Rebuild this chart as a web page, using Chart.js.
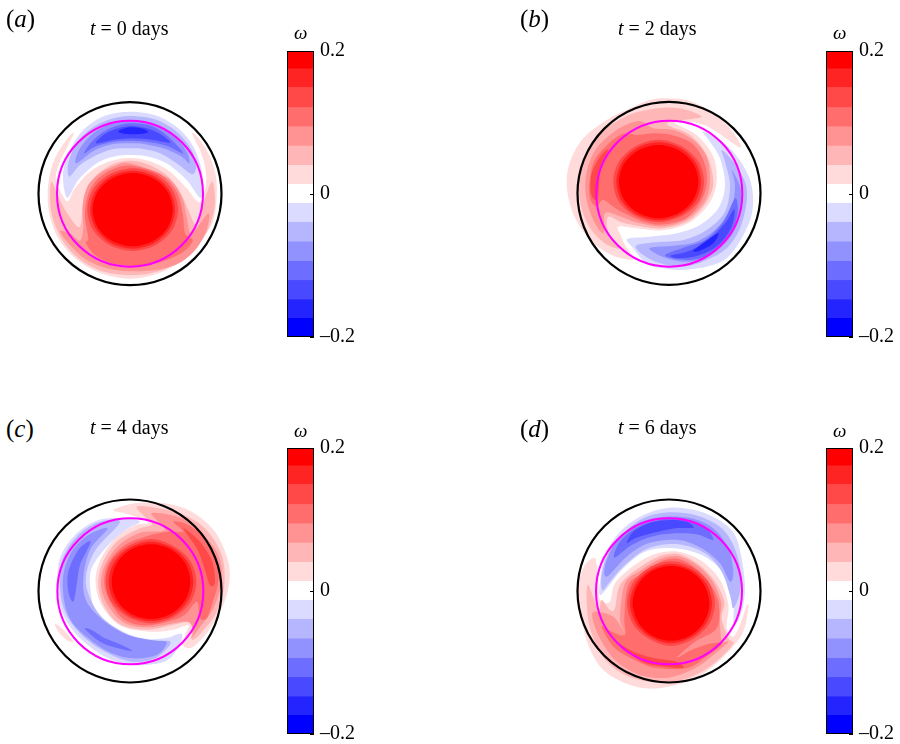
<!DOCTYPE html>
<html><head><meta charset="utf-8">
<script src="https://cdn.jsdelivr.net/npm/chart.js@4"></script>
<style>
html,body{margin:0;padding:0;background:#fff;width:900px;height:744px;overflow:hidden}
canvas{position:absolute}
.t{position:absolute;font-family:"Liberation Serif",serif;color:#000;white-space:nowrap;line-height:1}
.lab{font-size:25px}.ttl{font-size:20px}.om{font-size:19px;font-style:italic}
i{font-style:italic}
</style></head><body>
<script>
// colour-bar values
const barEdges=[0.2,0.176,0.15,0.122,0.095,0.068,0.041,0.0145,-0.012,-0.0385,-0.066,-0.093,-0.12,-0.147,-0.173,-0.2];
const barColors=['#ff0000','#ff2424','#ff4949','#ff6d6d','#ff9292','#ffb6b6','#ffdbdb','#ffffff','#dbdbff','#b6b6ff','#9292ff','#6d6dff','#4949ff','#2424ff','#0000ff'];
const barTicks=[-0.2,0,0.2];
const P1='#ffdbdb',P2='#ffb6b6',P3='#ff9292',P4='#ff6d6d',P5='#ff4949',P6='#ff2424',P7='#ff0000';
const B1='#dbdbff',B2='#b6b6ff',B3='#9292ff',B4='#6d6dff',B5='#4949ff',B6='#2424ff';

// panel (a) vorticity contours
const aP1=[[222,400],[195,425],[165,475],[148,530],[143,590],[150,650],[175,715],[215,765],[270,805],[330,828],[390,836],[450,828],[510,805],[565,765],[610,715],[640,660],[650,590],[648,530],[630,470],[600,420],[575,398],[600,450],[615,500],[618,550],[605,600],[590,603],[560,565],[510,515],[450,484],[390,474],[330,484],[270,515],[225,565],[205,603],[190,590],[168,540],[178,490]];
const aP2=[[155,545],[150,600],[160,660],[190,725],[235,775],[290,808],[345,822],[390,825],[440,822],[500,805],[555,770],[600,725],[630,675],[645,610],[638,545],[622,575],[605,630],[590,680],[565,630],[540,575],[500,525],[440,492],[390,482],[340,492],[285,530],[252,590],[240,680],[205,645],[180,600]];
const aP3=[[390,490],[500,532],[545,590],[560,650],[575,700],[625,640],[620,690],[590,745],[545,785],[480,808],[390,814],[320,805],[260,780],[215,740],[180,695],[210,700],[240,722],[250,680],[248,620],[262,560],[300,520],[345,497]];
const aP4=[[395,497],[480,522],[530,575],[548,640],[555,700],[578,722],[550,755],[500,780],[440,795],[390,797],[330,788],[285,765],[258,730],[265,715],[255,650],[262,590],[290,540],[340,507]];
const aP5=[[534,629],[516,691],[466,736],[398,753],[330,736],[280,691],[262,629],[280,567],[330,522],[398,505],[466,522],[516,567]];
const aP6=[[525,629],[508,687],[462,730],[398,746],[334,730],[288,687],[271,629],[288,571],[334,528],[398,512],[462,528],[508,571]];
const aP7=[[518,629],[502,684],[458,724],[398,739],[338,724],[294,684],[278,629],[294,574],[338,534],[398,519],[458,534],[502,574]];
const aB1=[[390,335],[470,347],[535,385],[580,440],[605,510],[607,575],[598,592],[560,540],[500,490],[445,470],[390,465],[340,470],[290,490],[235,540],[205,592],[193,570],[190,510],[215,440],[255,385],[315,347]];
const aB2=[[390,348],[465,358],[530,395],[575,450],[588,500],[575,522],[530,490],[480,460],[430,447],[390,445],[340,447],[290,465],[240,495],[208,530],[205,490],[230,430],[275,385],[330,358]];
const aB3=[[390,362],[460,372],[520,405],[560,455],[568,490],[545,470],[490,445],[430,432],[390,430],[340,432],[285,450],[228,490],[240,445],[280,400],[330,372]];
const aB4=[[390,370],[455,378],[505,410],[550,460],[500,437],[440,425],[390,422],[340,425],[285,440],[252,460],[280,420],[330,385]];
const aB5=[[390,378],[440,385],[485,405],[510,428],[460,420],[400,415],[340,420],[288,430],[310,405],[345,388]];
const aB6=[[355,395],[375,385],[400,382],[430,387],[445,397],[420,402],[380,402]];

// panel (b)
const bP1=[[350,40],[420,48],[490,85],[540,130],[570,175],[568,187],[535,165],[480,128],[430,112],[375,113],[440,150],[490,215],[500,290],[478,355],[420,412],[340,436],[260,430],[205,425],[212,450],[225,480],[250,522],[200,516],[150,490],[100,440],[65,375],[50,300],[60,230],[100,160],[170,105],[240,70],[300,45]];
const bP2=[[340,68],[400,72],[455,95],[400,105],[350,118],[420,150],[470,210],[490,290],[470,350],[418,406],[340,430],[260,422],[215,412],[175,395],[175,440],[210,490],[160,472],[112,415],[88,335],[95,250],[130,170],[190,115],[260,82]];
const bP3=[[267,108],[200,135],[140,190],[110,260],[108,335],[130,405],[160,445],[165,385],[205,392],[270,415],[340,424],[412,402],[465,348],[480,285],[470,215],[430,165],[370,135],[310,130]];
const bP4=[[210,150],[140,215],[120,280],[120,340],[140,365],[160,345],[205,375],[280,410],[340,418],[410,398],[455,345],[471,285],[460,225],[425,175],[365,150],[310,145],[265,150]];
const bP5a=[[175,192],[150,215],[125,265],[122,320],[135,345],[145,330],[150,265],[165,220]];
const bP5=[[462,290],[444,352],[394,394],[326,412],[258,394],[208,352],[190,290],[208,228],[258,183],[326,164],[394,183],[444,228]];
const bP6=[[453,290],[436,349],[390,390],[326,406],[262,390],[216,349],[199,290],[216,231],[262,188],[326,172],[390,188],[436,231]];
const bP7=[[445,290],[429,345],[385,385],[326,400],[267,385],[223,345],[207,290],[223,235],[267,195],[326,180],[385,195],[429,235]];
const bB1=[[458,140],[500,160],[545,195],[590,260],[608,320],[605,390],[575,460],[530,520],[470,545],[390,555],[340,550],[290,537],[250,490],[232,462],[300,455],[380,445],[450,420],[505,370],[525,300],[510,220],[480,170]];
const bB2=[[515,195],[550,230],[585,290],[590,350],[570,430],[530,490],[470,525],[400,545],[330,535],[280,510],[258,482],[320,472],[400,465],[470,435],[525,380],[540,300],[525,230]];
const bB3=[[545,255],[572,310],[572,380],[545,450],[490,505],[420,530],[350,520],[298,490],[370,482],[440,470],[500,430],[545,365],[555,300]];
const bB4=[[556,340],[562,390],[535,455],[485,505],[420,525],[345,512],[400,488],[465,465],[520,410]];
const bB5=[[553,372],[545,425],[505,480],[450,510],[390,520],[362,512],[410,500],[470,470],[525,415]];
const bB6=[[430,497],[465,470],[505,445],[490,475],[450,497]];

// panel (c)
const cP1=[[265,75],[330,55],[420,55],[500,80],[570,140],[610,230],[612,300],[590,370],[545,445],[500,488],[473,480],[480,450],[490,420],[440,435],[370,440],[290,424],[235,370],[212,300],[222,235],[265,165],[325,122],[370,115],[345,100],[300,85]];
const cP1b=[[90,418],[105,425],[135,455],[145,472],[125,465],[100,440]];
const cP2=[[335,65],[400,70],[470,88],[540,130],[590,210],[598,300],[575,380],[540,430],[503,465],[500,420],[480,412],[370,434],[285,418],[237,362],[220,300],[232,235],[275,170],[340,132],[380,120],[370,105]];
const cP3=[[380,85],[470,100],[530,145],[580,210],[590,290],[565,370],[530,420],[497,462],[505,440],[495,415],[470,410],[370,427],[295,412],[245,355],[228,300],[240,240],[285,178],[350,142],[420,135]];
const cP4=[[445,110],[490,120],[540,160],[575,225],[580,290],[560,360],[545,400],[525,400],[515,350],[470,395],[370,421],[300,405],[255,350],[238,295],[250,235],[300,180],[370,152],[430,140],[475,140]];
const cP5a=[[475,130],[520,165],[560,225],[570,290],[555,300],[535,240],[515,190]];
const cP5=[[514,290],[496,352],[446,397],[378,415],[310,397],[260,352],[242,290],[260,228],[310,183],[378,162],[446,183],[496,228]];
const cP6=[[505,290],[488,349],[442,392],[378,408],[314,392],[268,349],[251,290],[268,231],[314,188],[378,170],[442,188],[488,231]];
const cP7=[[496,290],[480,346],[437,387],[378,402],[319,387],[276,346],[260,290],[276,234],[319,193],[378,178],[437,193],[480,234]];
const cB1=[[345,110],[300,100],[220,105],[150,150],[105,220],[98,310],[115,390],[165,460],[240,515],[320,540],[400,535],[440,515],[468,470],[468,446],[420,460],[350,460],[275,430],[215,385],[197,320],[200,250],[250,180],[310,130]];
const cB2=[[285,110],[220,112],[155,155],[112,225],[105,310],[122,385],[170,450],[240,500],[320,530],[390,520],[437,470],[360,470],[290,440],[225,390],[188,320],[185,260],[215,190]];
const cB3=[[248,130],[190,150],[140,200],[115,270],[118,350],[140,410],[190,460],[250,500],[320,520],[395,510],[425,472],[385,466],[310,450],[240,410],[185,350],[175,280],[195,195]];
const cB4a=[[197,170],[160,195],[130,260],[130,320],[145,350],[155,300],[165,240]];
const cB4b=[[180,432],[225,470],[280,490],[322,498],[285,478],[240,460],[200,435]];

// panel (d)
const dP1=[[88,218],[60,240],[40,300],[45,380],[70,480],[110,550],[170,590],[240,610],[310,605],[390,580],[460,530],[530,450],[550,370],[545,362],[525,420],[505,455],[485,430],[490,360],[465,285],[410,228],[340,200],[270,207],[205,243],[150,295],[135,350],[105,345],[100,290],[95,240]];
const dP2=[[70,300],[65,350],[75,430],[110,510],[170,565],[250,590],[330,590],[410,560],[470,515],[505,475],[490,460],[470,400],[478,350],[450,290],[400,238],[340,207],[280,215],[220,250],[165,300],[150,370],[135,375],[110,345],[100,375]];
const dP3=[[82,385],[100,450],[150,525],[225,570],[310,578],[390,550],[445,510],[490,470],[470,468],[465,400],[468,350],[440,285],[395,240],[340,214],[285,222],[225,258],[180,295],[165,400],[178,440],[150,400],[120,385]];
const dP4=[[110,425],[150,490],[220,530],[280,550],[370,548],[430,510],[470,478],[440,475],[380,495],[335,518],[390,470],[455,430],[460,350],[430,290],[390,248],[340,222],[290,228],[240,262],[190,300],[178,400],[180,450],[140,440]];
const dP5a=[[165,478],[205,500],[270,520],[335,530],[355,548],[300,545],[230,530]];
const dP5=[[450,355],[432,417],[384,462],[318,483],[252,462],[204,417],[186,355],[204,293],[252,248],[318,229],[384,248],[432,293]];
const dP6=[[441,355],[424,414],[380,456],[318,475],[256,456],[212,414],[195,355],[212,296],[256,254],[318,236],[380,254],[424,296]];
const dP7=[[433,355],[417,411],[375,452],[318,467],[261,452],[219,411],[203,355],[219,299],[261,258],[318,243],[375,258],[417,299]];
const dB1=[[312,68],[400,78],[470,110],[510,150],[530,220],[540,310],[530,380],[507,420],[505,340],[480,270],[420,215],[330,190],[240,200],[170,255],[130,305],[105,330],[105,290],[120,210],[165,140],[235,90]];
const dB2=[[310,82],[390,90],[465,125],[505,180],[525,250],[525,320],[505,370],[495,330],[470,260],[420,205],[340,178],[250,190],[180,240],[135,290],[112,315],[110,270],[130,205],[170,150],[235,100]];
const dB3=[[300,95],[380,100],[445,130],[490,190],[505,260],[495,290],[465,235],[410,190],[340,165],[250,175],[185,215],[125,275],[122,235],[160,160],[225,112]];
const dB4=[[300,102],[370,105],[420,125],[445,165],[395,148],[330,145],[260,155],[200,180],[148,218],[165,170],[220,125]];
const dB5=[[185,175],[205,140],[260,112],[320,105],[365,110],[385,128],[330,130],[260,145],[210,160]];

const panels=[
 {box:[0,0,240,300],c:[390,581],bands:[[aP1,P1],[aP2,P2],[aP3,P3],[aP4,P4],[aP5,P5],[aP6,P6],[aP7,P7],[aB1,B1],[aB2,B2],[aB3,B3],[aB4,B4],[aB5,B5],[aB6,B6]],m:[390,581]},
 {box:[550,85,230,215],c:[357,325],bands:[[bP1,P1],[bP2,P2],[bP3,P3],[bP4,P4],[bP5a,P5],[bP5,P5],[bP6,P6],[bP7,P7],[bB1,B1],[bB2,B2],[bB3,B3],[bB4,B4],[bB5,B5],[bB6,B6]],m:[358,326]},
 {box:[25,485,220,215],c:[315,318],bands:[[cP1,P1],[cP1b,P1],[cP2,P2],[cP3,P3],[cP4,P4],[cP5a,P5],[cP5,P5],[cP6,P6],[cP7,P7],[cB1,B1],[cB2,B2],[cB3,B3],[cB4a,B4],[cB4b,B4]],m:[316,319]},
 {box:[565,485,210,215],c:[312,318],bands:[[dP1,P1],[dP2,P2],[dP3,P3],[dP4,P4],[dP5a,P5],[dP5,P5],[dP6,P6],[dP7,P7],[dB1,B1],[dB2,B2],[dB3,B3],[dB4,B4],[dB5,B5]],m:[312,319]}
];
const cbars=[[287,51],[826,51],[287,448],[826,448]];
const labels=[['a',6,6,'0',90,20,294,26],['b',520,6,'2',618,20,833,26],['c',6,416,'4',90,419,294,424],['d',520,416,'6',618,419,833,424]];

// fills each closed contour through the point elements the scatter controller placed
const contourFill={id:'contourFill',beforeDatasetsDraw(chart){
 const ctx=chart.ctx;
 chart.data.datasets.forEach((ds,i)=>{
  if(!ds.bandColor)return;
  const p=chart.getDatasetMeta(i).data,n=p.length,k=0.16;
  ctx.beginPath();ctx.moveTo(p[0].x,p[0].y);
  for(let j=0;j<n;j++){
   const a=p[(j-1+n)%n],b=p[j],c=p[(j+1)%n],d=p[(j+2)%n];
   ctx.bezierCurveTo(b.x+(c.x-a.x)*k,b.y+(c.y-a.y)*k,c.x-(d.x-b.x)*k,c.y-(d.y-b.y)*k,c.x,c.y);
  }
  ctx.closePath();ctx.fillStyle=ds.bandColor;ctx.fill();
 });
}};
const barFrame={id:'barFrame',afterDraw(chart){
 const {ctx,chartArea:a,scales:{y}}=chart;
 ctx.save();ctx.strokeStyle='#000';ctx.lineWidth=1;
 ctx.strokeRect(a.left+.5,a.top+.5,a.right-a.left-1,a.bottom-a.top-1);
 ctx.beginPath();
 barTicks.forEach(v=>{const py=Math.round(y.getPixelForValue(v))+.5;ctx.moveTo(a.right-4,py);ctx.lineTo(a.right,py);});
 ctx.stroke();ctx.restore();
}};
function addCanvas(l,t,w,h){const c=document.createElement('canvas');c.width=w;c.height=h;c.style.left=l+'px';c.style.top=t+'px';c.style.width=w+'px';c.style.height=h+'px';document.body.appendChild(c);return c;}

panels.forEach(pn=>{
 const [l,t,w,h]=pn.box;
 const ds=pn.bands.map(([pts,col])=>({data:pts,bandColor:col,showLine:false,pointRadius:0,pointHoverRadius:0}));
 ds.unshift({data:[pn.m],showLine:false,pointRadius:73,pointBorderWidth:2,pointBorderColor:'#ff00ff',pointBackgroundColor:'rgba(0,0,0,0)',clip:false});
 ds.splice(1,0,{data:[pn.c],showLine:false,pointRadius:91.5,pointBorderWidth:2.2,pointBorderColor:'#000',pointBackgroundColor:'rgba(0,0,0,0)',clip:false});
 new Chart(addCanvas(l,t,w,h),{type:'scatter',data:{datasets:ds},plugins:[contourFill],options:{
  responsive:false,animation:false,events:[],layout:{padding:0,autoPadding:false},
  plugins:{legend:{display:false},tooltip:{enabled:false}},
  scales:{x:{type:'linear',min:0,max:w*3,display:false},y:{type:'linear',min:0,max:h*3,reverse:true,display:false}}
 }});
});

cbars.forEach(([bx,by])=>{
 const W=90,H=310;
 const ds=barColors.map((col,i)=>({data:[[barEdges[i+1],barEdges[i]]],backgroundColor:col,borderWidth:0,barPercentage:1,categoryPercentage:1}));
 new Chart(addCanvas(bx,by-12,W,H),{type:'bar',data:{labels:['ω'],datasets:ds},plugins:[barFrame],options:{
  responsive:false,animation:false,events:[],
  layout:{padding:{left:0,right:0,top:12,bottom:12},autoPadding:false},
  plugins:{legend:{display:false},tooltip:{enabled:false}},
  scales:{
   x:{stacked:true,display:false},
   y:{position:'right',min:-0.2,max:0.2,afterBuildTicks:s=>{s.ticks=barTicks.map(v=>({value:v}));},afterFit:s=>{s.width=W-27;s.paddingTop=0;s.paddingBottom=0;},
      grid:{display:false,drawTicks:false},border:{display:false},
      ticks:{padding:6,color:'#000',font:{family:'"Liberation Serif",serif',size:20},callback:v=>v===0?'0':(v<0?'–':'')+Math.abs(v).toFixed(1),maxRotation:0,autoSkip:false}}
  }
 }});
});
labels.forEach(([n,lx,ly,d,tx,ty,ox,oy])=>{
 document.body.insertAdjacentHTML('beforeend',`<div class="t lab" style="left:${lx}px;top:${ly}px">(<i>${n}</i>)</div><div class="t ttl" style="left:${tx}px;top:${ty-2}px"><i>t</i> = ${d} days</div><div class="t om" style="left:${ox}px;top:${oy-3}px">ω</div>`);
});
</script>
</body></html>
